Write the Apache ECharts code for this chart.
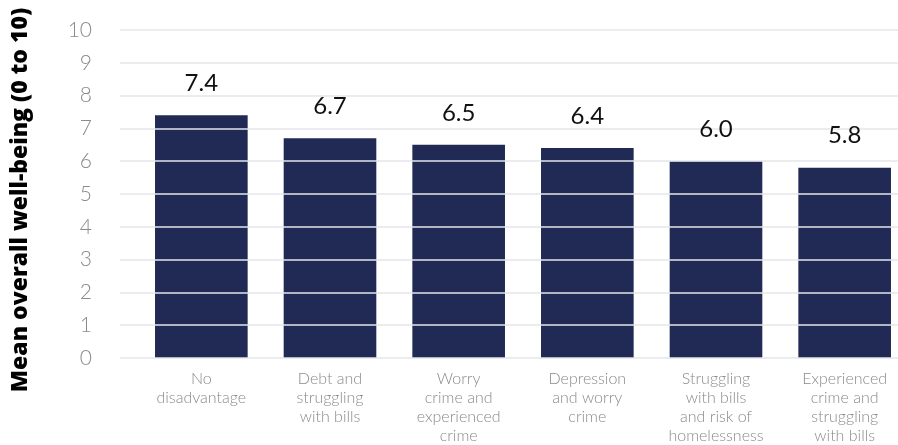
<!DOCTYPE html>
<html>
<head>
<meta charset="utf-8">
<script src="https://cdn.jsdelivr.net/npm/echarts@6/dist/echarts.min.js"></script>
<style>
  html, body { margin: 0; padding: 0; background: #fff; }
  #chart { width: 898px; height: 445px; }
</style>
</head>
<body>
<div id="chart"></div>
<script>
// Mean overall well-being by type of disadvantage
const categories = [
  'No\ndisadvantage',
  'Debt and\nstruggling\nwith bills',
  'Worry\ncrime and\nexperienced\ncrime',
  'Depression\nand worry\ncrime',
  'Struggling\nwith bills\nand risk of\nhomelessness',
  'Experienced\ncrime and\nstruggling\nwith bills'
];
const wellBeing = [7.4, 6.7, 6.5, 6.4, 6.0, 5.8];
const yTicks = [0, 1, 2, 3, 4, 5, 6, 7, 8, 9, 10];

const yMin = yTicks[0];
const yMax = yTicks[yTicks.length - 1];
const plotTop = 30, plotBottom = 87;

const chart = echarts.init(document.getElementById('chart'));
chart.setOption({
  animation: false,
  grid: [
    // grid 0: value scale, gridlines and the axis title
    { left: 120, right: 0, top: plotTop, bottom: plotBottom, outerBoundsMode: 'none' },
    // grid 1: bars and category labels (band extends slightly past the right edge)
    { left: 137, width: 772, top: plotTop, bottom: plotBottom, outerBoundsMode: 'none' }
  ],
  xAxis: [
    { type: 'value', gridIndex: 0, show: false },
    {
      type: 'category',
      gridIndex: 1,
      data: categories,
      axisLine: { show: false },
      axisTick: { show: false },
      axisLabel: {
        interval: 0,
        margin: 11,
        color: '#8a8a8a',
        fontFamily: 'Lato',
        fontWeight: 300,
        fontSize: 16,
        lineHeight: 19
      }
    }
  ],
  yAxis: [
    {
      type: 'value',
      gridIndex: 0,
      min: yMin,
      max: yMax,
      interval: 1,
      z: 3,
      name: 'Mean overall well-being (0 to 10)',
      nameLocation: 'middle',
      nameGap: 88,
      nameTextStyle: {
        color: '#000',
        fontFamily: 'Open Sans',
        fontWeight: 800,
        fontSize: 23,
        padding: [0, 12, 0, 0]
      },
      axisLine: { show: false },
      axisTick: { show: false },
      axisLabel: {
        margin: 28,
        color: '#8a8a8a',
        fontFamily: 'Lato',
        fontWeight: 300,
        fontSize: 21
      },
      splitLine: { lineStyle: { color: '#e3e6eb', width: 1.5 } }
    },
    {
      type: 'value',
      gridIndex: 1,
      min: yMin,
      max: yMax,
      interval: 1,
      show: false
    }
  ],
  series: [
    {
      type: 'bar',
      xAxisIndex: 1,
      yAxisIndex: 1,
      z: 2,
      data: wellBeing,
      barWidth: '72%',
      itemStyle: { color: '#212a55' }
    },
    {
      // value labels, kept above the gridlines
      type: 'bar',
      xAxisIndex: 1,
      yAxisIndex: 1,
      z: 4,
      barGap: '-100%',
      barWidth: '72%',
      data: wellBeing,
      itemStyle: { color: 'rgba(0,0,0,0)' },
      silent: true,
      label: {
        show: true,
        position: 'top',
        distance: 20,
        color: '#111',
        fontFamily: 'Lato',
        fontSize: 24,
        formatter: p => p.value.toFixed(1)
      }
    }
  ]
});
</script>
</body>
</html>
